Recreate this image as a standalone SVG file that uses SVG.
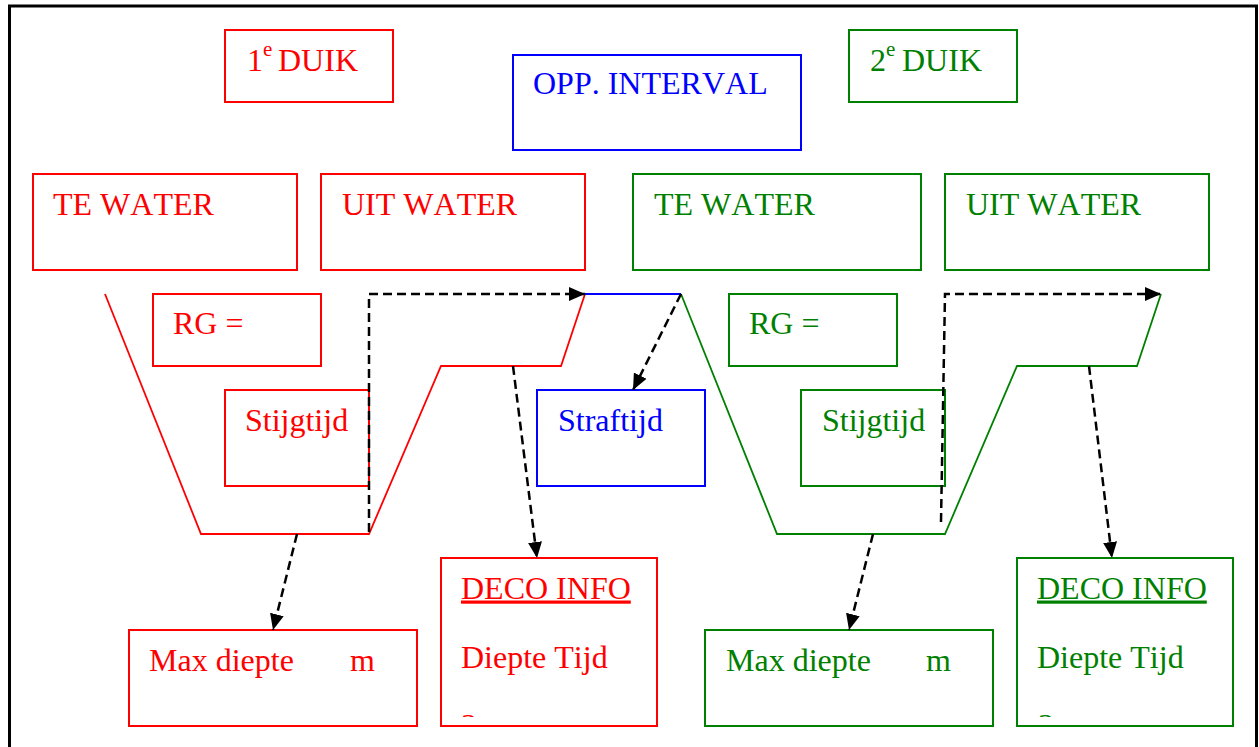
<svg xmlns="http://www.w3.org/2000/svg" width="1259" height="747" viewBox="0 0 1259 747">
<style>
  text { font-family: "Liberation Serif", "Times New Roman", serif; font-size: 32px; font-kerning: none; }
  .r { stroke: #FF0000; }
  .g { stroke: #008000; }
  .b { stroke: #0000FF; }
  .box { fill: #FFFFFF; stroke-width: 2; }
  .tr { fill: #FF0000; }
  .tg { fill: #008000; }
  .tb { fill: #0000FF; }
  .prof { fill: none; stroke-width: 1.8; }
  .dash { fill: none; stroke: #000000; stroke-width: 2.5; stroke-dasharray: 9 5; }
</style>
<defs>
  <marker id="ah" viewBox="0 0 16 14" refX="16" refY="7" markerWidth="16" markerHeight="14" markerUnits="userSpaceOnUse" orient="auto">
    <path d="M0,0 L16,7 L0,14 z" fill="#000000"/>
  </marker>
  <clipPath id="clipR"><rect x="441" y="558" width="216" height="159"/></clipPath>
  <clipPath id="clipG"><rect x="1017" y="558" width="216" height="159"/></clipPath>
</defs>
<rect x="0" y="0" width="1259" height="747" fill="#FFFFFF"/>
<rect id="frame" x="9.5" y="6" width="1247" height="800" fill="none" stroke="#000000" stroke-width="3"/>

<g id="profile">
  <polyline class="prof r" points="105,294 201,534 369,534 441,366 561,366 585,294"/>
  <polyline class="prof b" points="585,294 681,294"/>
  <polyline class="prof g" points="681,294 777,534 945,534 1017,366 1137,366 1161,294"/>
</g>

<g id="dive1-title"><rect class="box r" x="225" y="30" width="168" height="72"/><text class="tr" x="247" y="71">1<tspan font-size="21" dy="-15">e</tspan><tspan dy="15" x="278">DUIK</tspan></text></g>
<g id="opp-interval"><rect class="box b" x="513" y="55" width="288" height="95"/><text class="tb" x="533" y="94">OPP. INTERVAL</text></g>
<g id="dive2-title"><rect class="box g" x="849" y="30" width="168" height="72"/><text class="tg" x="870" y="71">2<tspan font-size="21" dy="-15">e</tspan><tspan dy="15" x="902">DUIK</tspan></text></g>

<g id="te-water-1"><rect class="box r" x="33" y="174" width="264" height="96"/><text class="tr" x="53" y="214.5">TE WATER</text></g>
<g id="uit-water-1"><rect class="box r" x="321" y="174" width="264" height="96"/><text class="tr" x="342" y="214.5">UIT WATER</text></g>
<g id="te-water-2"><rect class="box g" x="633" y="174" width="288" height="96"/><text class="tg" x="654" y="214.5">TE WATER</text></g>
<g id="uit-water-2"><rect class="box g" x="945" y="174" width="264" height="96"/><text class="tg" x="966" y="214.5">UIT WATER</text></g>

<g id="rg-1"><rect class="box r" x="153" y="294" width="168" height="72"/><text class="tr" x="173" y="334">RG =</text></g>
<g id="rg-2"><rect class="box g" x="729" y="294" width="168" height="72"/><text class="tg" x="749" y="334">RG =</text></g>

<g id="stijgtijd-1"><rect class="box r" x="225" y="390" width="144" height="96"/><text class="tr" x="245" y="430.5">Stijgtijd</text></g>
<g id="straftijd"><rect class="box b" x="537" y="390" width="168" height="96"/><text class="tb" x="558" y="430.5">Straftijd</text></g>
<g id="stijgtijd-2"><rect class="box g" x="801" y="390" width="144" height="96"/><text class="tg" x="822" y="430.5">Stijgtijd</text></g>

<g id="max-diepte-1"><rect class="box r" x="129" y="630" width="288" height="96"/><text class="tr" x="149" y="671">Max diepte</text><text class="tr" x="350" y="671">m</text></g>
<g id="deco-info-1"><rect class="box r" x="441" y="558" width="216" height="168"/><text class="tr" x="461" y="598.5" text-decoration="underline">DECO INFO</text><text class="tr" x="461" y="667.5">Diepte Tijd</text><text class="tr" x="461" y="736" clip-path="url(#clipR)">3</text></g>
<g id="max-diepte-2"><rect class="box g" x="705" y="630" width="288" height="96"/><text class="tg" x="726" y="671">Max diepte</text><text class="tg" x="926" y="671">m</text></g>
<g id="deco-info-2"><rect class="box g" x="1017" y="558" width="216" height="168"/><text class="tg" x="1037" y="598.5" text-decoration="underline">DECO INFO</text><text class="tg" x="1037" y="667.5">Diepte Tijd</text><text class="tg" x="1038" y="736" clip-path="url(#clipG)">3</text></g>

<g id="connectors">
  <polyline class="dash" points="369,532 369,294 585,294" marker-end="url(#ah)"/>
  <polyline class="dash" points="941,522 945,294 1161,294" marker-end="url(#ah)"/>
  <line class="dash" x1="681" y1="294" x2="633" y2="390" marker-end="url(#ah)"/>
  <line class="dash" x1="513" y1="366" x2="537" y2="558" marker-end="url(#ah)"/>
  <line class="dash" x1="1089" y1="366" x2="1112" y2="558" marker-end="url(#ah)"/>
  <line class="dash" x1="297" y1="534" x2="273" y2="630" marker-end="url(#ah)"/>
  <line class="dash" x1="873" y1="534" x2="849" y2="630" marker-end="url(#ah)"/>
</g>
</svg>
